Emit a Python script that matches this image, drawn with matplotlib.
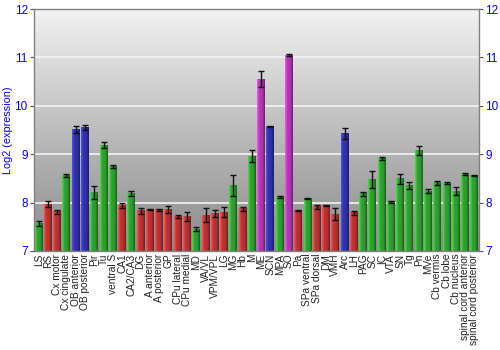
import numpy as np
import matplotlib
matplotlib.use("Agg")
import matplotlib.pyplot as plt
from matplotlib.colors import LinearSegmentedColormap, to_rgb

plt.rcParams["font.family"] = ["Liberation Sans", "DejaVu Sans"]

categories = ["LS", "RS", "Cx motor", "Cx cingulate", "OB anterior", "OB posterior", "Pir", "Tu",
              "ventral S", "CA1", "CA2/CA3", "DG", "A anterior", "A posterior", "GP", "CPu lateral",
              "CPu medial", "MD", "VA/VL", "VPM/VPL", "LG", "MG", "Hb", "M", "ME", "SCN", "MPA", "SO",
              "Pa", "SPa ventral", "SPa dorsal", "DM", "VMH", "Arc", "LH", "PAG", "SC", "IC", "VTA",
              "SN", "Tg", "Pn", "MVe", "Cb vermis", "Cb lobe", "Cb nucleus",
              "spinal cord anterior", "spinal cord posterior"]
values = [7.56, 7.97, 7.81, 8.56, 9.51, 9.55, 8.21, 9.19,
          8.74, 7.94, 8.19, 7.83, 7.86, 7.85, 7.86, 7.72,
          7.71, 7.45, 7.74, 7.78, 7.80, 8.36, 7.87, 8.96, 10.55, 9.58, 8.12, 11.05,
          7.83, 8.09, 7.91, 7.94, 7.76, 9.43, 7.79, 8.18, 8.48, 8.92, 8.02,
          8.49, 8.36, 9.08, 8.24, 8.41, 8.40, 8.24,
          8.59, 8.56]
errors = [0.05, 0.07, 0.04, 0.03, 0.08, 0.05, 0.13, 0.07,
          0.03, 0.05, 0.05, 0.06, 0.01, 0.02, 0.07, 0.03,
          0.10, 0.04, 0.15, 0.07, 0.10, 0.22, 0.04, 0.13, 0.16, 0.01, 0.02, 0.02,
          0.01, 0.01, 0.05, 0.02, 0.13, 0.11, 0.04, 0.04, 0.18, 0.03, 0.02,
          0.11, 0.07, 0.10, 0.05, 0.04, 0.02, 0.08,
          0.02, 0.02]
groups = ["g", "r", "r", "g", "b", "b", "g", "g",
          "g", "r", "g", "r", "r", "r", "r", "r",
          "r", "g", "r", "r", "r", "g", "r", "g", "m", "b", "g", "m",
          "r", "g", "r", "r", "r", "b", "r", "g", "g", "g", "g",
          "g", "g", "g", "g", "g", "g", "g",
          "g", "g"]
yticks = [7, 8, 9, 10, 11, 12]

base_colors = {"g": "#2e9e2e", "r": "#b83232", "b": "#3030a8", "m": "#b036b0"}

fig = plt.figure(figsize=(5, 3.5), dpi=100)
ax = fig.add_axes([0.068, 0.283, 0.89, 0.691])

# background gradient
bg = np.linspace(0, 1, 256).reshape(-1, 1)
bg_cmap = LinearSegmentedColormap.from_list("bg", ["#f2f2f2", "#bdbdbd", "#8a8a8a"])
ax.imshow(bg, cmap=bg_cmap, aspect="auto", extent=[0, 1, 0, 1],
          transform=ax.transAxes, zorder=0, interpolation="bilinear")

x = np.arange(len(categories))
width = 0.86
ax.set_xlim(-0.5, len(categories) - 0.5)
ax.set_ylim(7, 12)

for yv in yticks[1:-1]:
    ax.axhline(yv, color="#f4f4f4", lw=1.2, zorder=1)

grad = np.linspace(0, 1, 32).reshape(1, -1)
for xi, v, g in zip(x, values, groups):
    c = np.array(to_rgb(base_colors[g]))
    light = np.clip(c * 1.25 + 0.08, 0, 1)
    dark = c * 0.6
    cmap = LinearSegmentedColormap.from_list("b", [light, c, c, dark])
    ax.imshow(grad, cmap=cmap, aspect="auto",
              extent=[xi - width / 2, xi + width / 2, 7, v], zorder=2,
              interpolation="bilinear")

ax.errorbar(x, values, yerr=errors, fmt="none", ecolor="#111111", elinewidth=1,
            capsize=2, capthick=1, zorder=3)

ax.set_xlim(-0.5, len(categories) - 0.5)
ax.set_ylim(7, 12)
ax.set_yticks(yticks)
ax.set_yticklabels([str(t) for t in yticks])
ax.tick_params(axis="y", colors="#555555", labelcolor="#0000ff", labelsize=8.5,
               length=3, direction="out", right=True, labelright=True, pad=1.5)
ax.set_xticks(x)
ax.set_xticklabels(categories, rotation=90, fontsize=7.3, color="#222222")
ax.tick_params(axis="x", length=0, pad=2)
for s in ax.spines.values():
    s.set_color("#808080")
    s.set_linewidth(1)
ax.set_ylabel("Log2 (expression)", color="#0000ff", fontsize=7.8, labelpad=1)

fig.savefig("out.png", dpi=100)
